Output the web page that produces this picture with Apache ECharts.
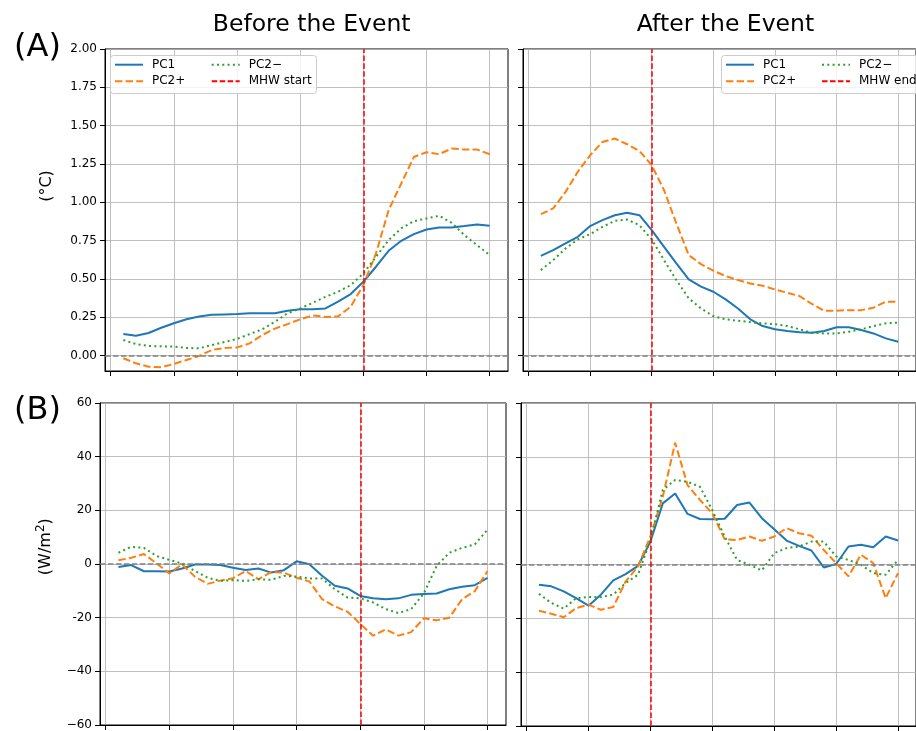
<!DOCTYPE html>
<html><head><meta charset="utf-8">
<script src="https://cdn.jsdelivr.net/npm/echarts@6/dist/echarts.min.js"></script>
<style>html,body{margin:0;padding:0;background:#fff}#c{width:916px;height:731px}</style>
</head><body><div id="c"></div>
<script>
// ---- data ----
const days = [1,2,3,4,5,6,7,8,9,10,11,12,13,14,15,16,17,18,19,20,21,22,23,24,25,26,27,28,29,30];
const xTicks = [0,5,10,15,20,25,30];
const tempTicks = [0,0.25,0.5,0.75,1,1.25,1.5,1.75,2];
const fluxTicks = [-60,-40,-20,0,20,40,60];
const fluxTickLabels = ['\u221260','\u221240','-20','0','20','40','60'];
const startDay = 20;
const endDay = 10;

// Panel A, before
const beforeTempPC1 = [0.141,0.130,0.148,0.182,0.211,0.237,0.256,0.267,0.269,0.271,0.276,0.276,0.276,0.293,0.302,0.302,0.308,0.352,0.402,0.482,0.580,0.684,0.749,0.793,0.823,0.836,0.836,0.845,0.856,0.847];
const beforeTempPC2p = [-0.017,-0.050,-0.072,-0.076,-0.054,-0.028,-0.002,0.037,0.050,0.054,0.080,0.135,0.176,0.206,0.237,0.263,0.252,0.256,0.319,0.460,0.667,0.949,1.123,1.296,1.327,1.314,1.351,1.344,1.344,1.314];
const beforeTempPC2m = [0.102,0.076,0.063,0.061,0.059,0.050,0.048,0.069,0.089,0.109,0.141,0.172,0.221,0.276,0.308,0.345,0.384,0.417,0.460,0.536,0.645,0.754,0.830,0.877,0.895,0.912,0.866,0.786,0.721,0.656];
// Panel A, after
const afterTempPC1 = [0.651,0.688,0.732,0.775,0.845,0.884,0.916,0.932,0.916,0.819,0.710,0.602,0.497,0.450,0.417,0.367,0.308,0.237,0.193,0.172,0.161,0.152,0.150,0.161,0.185,0.185,0.167,0.145,0.113,0.091];
const afterTempPC2p = [0.923,0.960,1.068,1.199,1.307,1.394,1.416,1.379,1.335,1.242,1.079,0.862,0.656,0.597,0.554,0.519,0.493,0.471,0.456,0.432,0.410,0.389,0.337,0.293,0.293,0.297,0.297,0.313,0.352,0.352];
const afterTempPC2m = [0.558,0.623,0.699,0.758,0.793,0.840,0.879,0.888,0.851,0.758,0.623,0.493,0.374,0.308,0.258,0.237,0.228,0.219,0.211,0.206,0.193,0.172,0.150,0.145,0.145,0.156,0.172,0.193,0.211,0.215];
// Panel B, before
const beforeFluxPC1 = [-1.1,-0.4,-2.7,-2.7,-2.8,-1.7,-0.2,-0.2,-0.4,-1.4,-2.2,-1.7,-3.2,-2.3,1.0,-0.1,-4.4,-8.1,-9.1,-11.9,-12.8,-13.1,-12.8,-11.5,-11.2,-11.0,-9.4,-8.5,-7.9,-5.2];
const beforeFluxPC2p = [1.4,2.3,3.7,0.2,-3.5,-0.1,-4.7,-7.4,-6.2,-5.3,-2.6,-5.7,-3.0,-3.2,-5.1,-6.5,-13.1,-15.8,-17.8,-22.3,-26.7,-24.4,-26.7,-25.4,-20.2,-21.0,-20.0,-13.1,-10.1,-2.6];
const beforeFluxPC2m = [4.2,6.4,6.0,3.0,1.5,0.2,-2.6,-5.1,-6.3,-6.0,-6.3,-5.7,-5.9,-4.4,-4.7,-5.4,-5.4,-9.4,-12.5,-12.8,-14.3,-16.8,-18.3,-16.8,-10.9,-0.7,4.2,6.0,7.3,12.8];
// Panel B, after
const afterFluxPC1 = [-7.5,-8.1,-10.0,-12.5,-15.3,-11.2,-5.9,-3.6,-0.5,8.5,22.7,26.4,18.8,16.9,16.8,17.0,22.1,23.0,17.2,13.1,8.9,6.9,5.2,-1.1,0.2,6.7,7.3,6.4,10.4,8.9];
const afterFluxPC2p = [-17.2,-18.3,-19.6,-16.2,-14.9,-16.8,-15.8,-6.3,-0.7,10.4,25.2,45.2,29.5,24.0,19.0,9.4,9.1,10.4,8.8,10.4,13.5,11.6,10.7,5.4,0.5,-4.4,3.6,0.5,-12.5,-3.2];
const afterFluxPC2m = [-10.9,-14.3,-16.4,-12.5,-12.1,-12.1,-11.2,-6.9,-3.8,9.1,27.7,31.4,30.7,28.9,20.2,10.4,1.7,-0.1,-2.2,4.2,6.1,6.7,8.5,8.5,3.0,1.7,-0.1,-3.2,-3.8,1.7];

// ---- chart ----
const FONT = 'DejaVu Sans';
const C_PC1 = '#1f77b4', C_PC2P = '#ff7f0e', C_PC2M = '#2ca02c', C_RED = '#ff0000', C_GREY = '#808080';
const DASH = [7.4, 3.2], DOT = [2, 3.3], THIN_DASH = [5.55, 2.4];

const chart = echarts.init(document.getElementById('c'), null, {renderer: 'canvas'});

const gridBoxes = [
  {left: 105, top: 49, width: 403, height: 322},
  {left: 523, top: 49, width: 404, height: 322},
  {left: 100, top: 403, width: 406, height: 323},
  {left: 521, top: 403, width: 406, height: 323}
];
const grid = gridBoxes.map(b => Object.assign({show: true, borderColor: '#000', borderWidth: 1, backgroundColor: 'rgba(0,0,0,0)'}, b));

const splitLine = {show: true, lineStyle: {color: '#b0b0b0', width: 0.8}};
const xAxis = [0,1,2,3].map(i => ({
  type: 'value', gridIndex: i, min: -0.45, max: 31.45,
  axisLine: {show: true, onZero: false, lineStyle: {color: '#000', width: 1}},
  axisTick: {show: true, length: 5, customValues: xTicks, lineStyle: {color: '#000'}},
  axisLabel: {show: false, customValues: xTicks},
  splitLine: splitLine
}));
const yAxis = [0,1,2,3].map(i => {
  const top = i < 2;
  return {
    type: 'value', gridIndex: i,
    min: top ? -0.1 : -60, max: top ? 2 : 60,
    interval: top ? undefined : 20,
    axisLine: {show: true, onZero: false, lineStyle: {color: '#000', width: 1}},
    axisTick: top ? {show: true, length: 5, customValues: tempTicks, lineStyle: {color: '#000'}}
                  : {show: true, length: 5, lineStyle: {color: '#000'}},
    axisLabel: top ? {show: i === 0, customValues: tempTicks, formatter: v => v.toFixed(2), fontSize: 12, fontFamily: FONT, color: '#000', margin: 8}
                   : {show: i === 2, formatter: v => fluxTickLabels[fluxTicks.indexOf(v)], fontSize: 12, fontFamily: FONT, color: '#000', margin: 8},
    splitLine: splitLine
  };
});

function line(idx, name, values, color, type) {
  return {
    type: 'line', name: name, xAxisIndex: idx, yAxisIndex: idx,
    data: days.map((d, k) => [d, values[k]]),
    symbol: 'none', showSymbol: false, silent: true, z: 3,
    lineStyle: {color: color, width: 2, type: type},
    itemStyle: {color: color}
  };
}
function zeroLine(idx) {
  return {
    type: 'line', name: 'zero' + idx, xAxisIndex: idx, yAxisIndex: idx, data: [], symbol: 'none', silent: true, z: 2,
    markLine: {silent: true, symbol: ['none', 'none'], label: {show: false}, animation: false,
      lineStyle: {color: C_GREY, width: 1.5, type: THIN_DASH}, data: [{yAxis: 0}]}
  };
}
function eventLine(idx, name, day) {
  return {
    type: 'line', name: name, xAxisIndex: idx, yAxisIndex: idx, data: [], symbol: 'none', silent: true, z: 4,
    lineStyle: {color: C_RED, width: 1.5, type: THIN_DASH}, itemStyle: {color: C_RED},
    markLine: {silent: true, symbol: ['none', 'none'], label: {show: false}, animation: false,
      lineStyle: {color: C_RED, width: 1.5, type: THIN_DASH}, data: [{xAxis: day}]}
  };
}

const panels = [
  [beforeTempPC1, beforeTempPC2p, beforeTempPC2m, 'MHW start', startDay],
  [afterTempPC1, afterTempPC2p, afterTempPC2m, 'MHW end', endDay],
  [beforeFluxPC1, beforeFluxPC2p, beforeFluxPC2m, 'MHW start', startDay],
  [afterFluxPC1, afterFluxPC2p, afterFluxPC2m, 'MHW end', endDay]
];
const series = [];
panels.forEach((p, i) => {
  series.push(zeroLine(i));
  series.push(line(i, 'PC1', p[0], C_PC1, 'solid'));
  series.push(line(i, 'PC2+', p[1], C_PC2P, DASH));
  series.push(line(i, 'PC2\u2212', p[2], C_PC2M, DOT));
  series.push(eventLine(i, p[3], p[4]));
});

function leg(names, left, top) {
  return {
    data: names, orient: 'vertical', left: left, top: top, padding: 0, z: 20,
    itemWidth: 28, itemHeight: 12, itemGap: 4.6, selectedMode: false,
    itemStyle: {opacity: 0},
    textStyle: {fontSize: 12, fontFamily: FONT, color: '#000', padding: [0, 0, 0, 4], lineHeight: 12}
  };
}
const legend = [
  leg(['PC1', 'PC2+'], 114, 58.7),
  leg(['PC2\u2212', 'MHW start'], 210.7, 58.7),
  leg(['PC1', 'PC2+'], 725, 58.7),
  leg(['PC2\u2212', 'MHW end'], 821, 58.7)
];

function txt(text, x, y, size, rot) {
  return {type: 'text', x: x, y: y, rotation: rot || 0, z: 30,
    style: {text: text, font: size + 'px "DejaVu Sans"', fill: '#000', align: 'center', verticalAlign: 'middle'}};
}
const graphic = [
  {type: 'rect', z: 10, shape: {x: 110.5, y: 55.5, width: 206, height: 38, r: 3},
    style: {fill: 'rgba(255,255,255,0.8)', stroke: '#cccccc', lineWidth: 1}},
  {type: 'rect', z: 10, shape: {x: 721.5, y: 55.5, width: 220, height: 38, r: 3},
    style: {fill: 'rgba(255,255,255,0.8)', stroke: '#cccccc', lineWidth: 1}},
  txt('Before the Event', 311.7, 25, 23.5),
  txt('After the Event', 725.5, 25, 23.5),
  txt('(A)', 37.5, 48, 32),
  txt('(B)', 37.5, 411, 32),
  txt('(\u00b0C)', 46.5, 186, 16, Math.PI / 2),
  {type: 'text', x: 44, y: 546.7, rotation: Math.PI / 2, z: 30,
    style: {text: '{a|(W/m}{s|2}{a|)}', align: 'center', verticalAlign: 'middle', fill: '#000',
      rich: {
        a: {fontSize: 16, fontFamily: FONT, color: '#000', verticalAlign: 'bottom', lineHeight: 20},
        s: {fontSize: 12, fontFamily: FONT, color: '#000', verticalAlign: 'bottom', lineHeight: 20, padding: [0, 0, 7, 0]}
      }}}
];

chart.setOption({
  animation: false,
  backgroundColor: '#ffffff',
  grid: grid, xAxis: xAxis, yAxis: yAxis,
  legend: legend, series: series, graphic: graphic
});
</script></body></html>
